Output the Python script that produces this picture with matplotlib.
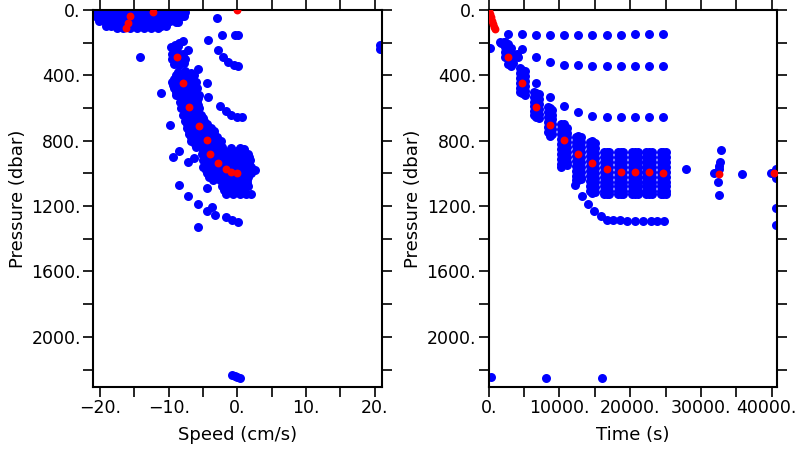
import matplotlib
matplotlib.use("Agg")
import matplotlib.pyplot as plt
from matplotlib.ticker import FixedLocator, FuncFormatter
from matplotlib.transforms import ScaledTranslation

# ---- left panel: speed (cm/s) vs pressure (dbar) ----
# surface cluster
surface = [
    (-20.4, 12), (-19.6, 10), (-18.8, 10), (-18.0, 10), (-17.2, 10), (-16.4, 10),
    (-15.6, 10), (-14.8, 10), (-14.0, 10), (-13.2, 10), (-12.4, 10), (-11.6, 10),
    (-10.8, 10), (-10.0, 10), (-9.2, 10), (-8.4, 10), (-7.7, 12),
    (-20.4, 40), (-19.6, 40), (-18.8, 40), (-18.0, 40), (-17.2, 40), (-16.4, 40),
    (-15.6, 40), (-14.8, 40), (-14.0, 40), (-13.2, 40), (-12.4, 40), (-11.6, 40),
    (-10.8, 40), (-10.0, 40), (-9.2, 40), (-8.4, 40), (-7.8, 38),
    (-20.2, 68), (-19.4, 70), (-18.6, 70), (-17.8, 70), (-17.0, 70), (-16.2, 70),
    (-15.4, 70), (-14.6, 70), (-13.8, 70), (-13.0, 70), (-12.2, 70), (-11.4, 70),
    (-10.6, 70), (-9.8, 70), (-9.0, 72), (-8.6, 74),
    (-19.2, 95), (-18.4, 98), (-17.6, 100), (-16.8, 100), (-16.0, 100), (-15.2, 100),
    (-14.4, 100), (-13.6, 100), (-12.8, 100), (-12.0, 100), (-11.2, 98), (-10.4, 96),
    (-17.6, 110), (-16.6, 112), (-15.6, 112), (-14.6, 112), (-13.6, 112), (-12.6, 112),
    (-11.6, 110),
]

# blobs between 180 and 380 dbar
upper_blobs = [
    (-9.7, 228), (-9.1, 214), (-8.5, 200), (-8.0, 192), (-9.4, 234), (-8.7, 220),
    (-7.2, 243),
    (-9.5, 270), (-8.7, 262), (-7.9, 268), (-9.6, 300), (-7.7, 300), (-8.7, 300),
    (-9.3, 330), (-8.5, 338), (-7.8, 325),
]

# main descending band
band = [
    (-8.6, 380), (-7.6, 375), (-6.8, 385),
    (-9.0, 400), (-8.0, 400), (-7.0, 400), (-6.3, 400),
    (-9.3, 420), (-8.3, 420), (-7.3, 420), (-6.5, 420),
    (-9.6, 440), (-8.8, 440), (-7.8, 440), (-6.9, 440), (-6.0, 440),
    (-9.4, 460), (-8.4, 460), (-7.4, 460), (-6.5, 460),
    (-9.2, 480), (-8.5, 480), (-7.5, 480), (-6.6, 480), (-5.9, 480),
    (-9.0, 500), (-8.0, 500), (-7.0, 500), (-6.2, 500),
    (-8.9, 520), (-8.0, 520), (-7.0, 520), (-6.1, 520), (-5.6, 520),
    (-8.2, 540), (-7.3, 540), (-6.4, 540), (-5.8, 540),
    (-8.4, 560), (-7.6, 560), (-6.7, 560), (-5.9, 560),
    (-7.9, 580), (-7.0, 580), (-6.1, 580), (-5.7, 580),
    (-8.2, 600), (-7.3, 600), (-6.4, 600), (-5.6, 600),
    (-7.6, 620), (-6.7, 620), (-5.8, 620),
    (-7.9, 640), (-7.0, 640), (-6.1, 640), (-5.3, 640),
    (-7.4, 660), (-6.5, 660), (-5.6, 660), (-5.0, 660),
    (-7.6, 680), (-6.8, 680), (-5.8, 680), (-4.9, 680),
    (-7.3, 700), (-6.3, 700), (-5.3, 700), (-4.4, 700),
    (-7.4, 720), (-6.5, 720), (-5.5, 720), (-4.5, 720), (-3.8, 720),
    (-7.0, 740), (-6.0, 740), (-5.0, 740), (-4.0, 740), (-3.4, 740),
    (-7.0, 760), (-6.2, 760), (-5.3, 760), (-4.3, 760), (-3.4, 760),
    (-6.8, 780), (-5.8, 780), (-4.8, 780), (-3.8, 780), (-3.0, 780),
    (-6.8, 800), (-6.0, 800), (-5.0, 800), (-4.0, 800), (-3.0, 800), (-2.4, 800),
    (-6.2, 820), (-5.2, 820), (-4.2, 820), (-3.2, 820), (-2.6, 820),
    (-6.0, 840), (-5.0, 840), (-4.0, 840), (-3.0, 840), (-2.2, 840), (-1.0, 845), (0.3, 845), (1.0, 850),
    (-5.0, 860), (-4.0, 860), (-3.0, 860), (-2.0, 860), (-1.0, 860), (0.0, 860), (0.8, 860),
    (-5.2, 880), (-4.2, 880), (-3.2, 880), (-2.2, 880), (-1.2, 880), (-0.2, 880), (0.8, 880), (1.6, 880),
    (-4.6, 900), (-3.6, 900), (-2.6, 900), (-1.6, 900), (-0.6, 900), (0.4, 900), (1.2, 900), (1.7, 900),
    (-5.0, 920), (-4.2, 920), (-3.2, 920), (-2.2, 920), (-1.2, 920), (-0.2, 920), (0.8, 920), (1.8, 920),
    (-4.6, 940), (-3.6, 940), (-2.6, 940), (-1.6, 940), (-0.6, 940), (0.4, 940), (1.2, 940), (1.7, 940),
    (-5.0, 960), (-4.2, 960), (-3.2, 960), (-2.2, 960), (-1.2, 960), (-0.2, 960), (0.8, 960), (2.0, 960),
    (-4.6, 980), (-3.6, 980), (-2.6, 980), (-1.6, 980), (-0.6, 980), (0.4, 980), (1.2, 980), (1.7, 980),
    (-4.4, 1000), (-3.2, 1000), (-2.2, 1000), (-1.2, 1000), (-0.2, 1000), (0.8, 1000), (1.9, 1000),
    (-4.2, 1020), (-3.2, 1020), (-2.2, 1020), (-1.2, 1020), (-0.2, 1020), (0.8, 1020), (1.6, 1020),
    (-3.6, 1040), (-2.6, 1040), (-1.6, 1040), (-0.6, 1040), (0.4, 1040), (1.4, 1040),
    (-2.0, 1060), (-1.0, 1060), (0.0, 1060), (1.0, 1060), (1.4, 1060),
    (-2.3, 1080), (-1.4, 1080), (-0.4, 1080), (0.6, 1080), (1.5, 1080),
    (-1.9, 1100), (-0.9, 1100), (0.1, 1100), (1.0, 1100),
    (-1.2, 1110), (-0.2, 1110), (0.8, 1110),
    (-1.6, 1125), (-0.6, 1125), (0.4, 1125), (1.2, 1125),
]

# scattered points and near-zero trails
left_scatter = [
    (-14.2, 286), (-5.7, 361), (-11.2, 510), (-9.9, 705), (-4.4, 449), (-4.3, 533),
    (-8.5, 860), (-9.4, 900), (-7.2, 929), (-6.4, 908), (-8.5, 1071), (-7.2, 1136),
    (-5.7, 1188), (-4.5, 1090), (-3.75, 1208), (-4.4, 1229), (-3.3, 1255),
    (-1.7, 1266), (-0.85, 1286), (0.1, 1296), (-5.7, 1325), (2.0, 1127), (2.5, 980),
    (-3.0, 46), (-4.25, 184), (-2.2, 153), (-0.4, 150), (0.1, 150),
    (-2.8, 243), (-2.1, 289), (-1.35, 316), (-0.55, 334), (0.1, 341),
    (-2.5, 588), (-1.7, 621), (-1.0, 643), (-0.1, 653), (0.6, 655),
    (20.8, 215), (20.8, 236),
    (-0.8, 2232), (-0.4, 2238), (0.0, 2245), (0.3, 2250),
]

left_red = [
    (0.0, 3), (-12.3, 14), (-15.6, 38), (-16.0, 80), (-16.3, 108), (-8.85, 286),
    (-8.0, 449), (-7.05, 592), (-5.6, 708), (-4.5, 798), (-4.0, 880), (-2.9, 939),
    (-1.6, 976), (-0.95, 994), (0.0, 1000),
]

# ---- right panel: time (s) vs pressure (dbar) ----
row_150 = [
    (2750, 149), (4750, 149), (6690, 150), (8660, 151), (10650, 151), (12660, 151),
    (14640, 151), (16680, 150), (18660, 150), (20690, 149), (22660, 149), (24680, 149),
]
row_340 = [
    (4750, 241), (6690, 290), (8660, 320), (10650, 337), (12660, 338), (14640, 341),
    (16680, 341), (18660, 341), (20690, 341), (22660, 341), (24680, 341),
]
row_650 = [
    (6690, 449), (8660, 535), (10650, 588), (12660, 625), (14640, 647), (16680, 653),
    (18660, 653), (20690, 653), (22660, 653), (24680, 653),
]
row_1290 = [
    (12200, 1071), (13140, 1139), (14000, 1185), (14880, 1229), (15830, 1262),
    (16680, 1282), (17620, 1286), (18560, 1288), (19590, 1290), (20680, 1290),
    (21770, 1290), (22900, 1290), (23830, 1290), (24780, 1290),
]
early = [
    (180, 233), (1600, 194), (1700, 205), (2100, 195), (2500, 232), (2800, 255),
    (3200, 280), (3000, 306), (3450, 327), (4190, 286), (4050, 269),
]
# dense profile columns: (time, pressures)
late_col = [870, 900, 930, 960, 990, 1020, 1050, 1080, 1105, 1125]
columns = [
    (2250, [195, 225, 255, 285]),
    (2700, [210, 240, 270, 300, 330]),
    (3100, [230, 260, 290, 320, 345]),
    (4400, [355, 385, 415, 445, 475, 500]),
    (4750, [365, 395, 425, 455, 485, 510]),
    (5100, [375, 405, 435, 465, 495, 520]),
    (6340, [500, 530, 560, 590, 620, 645]),
    (6690, [505, 535, 565, 595, 625, 655]),
    (7040, [515, 545, 575, 605, 635, 660]),
    (8310, [595, 625, 655, 685, 715, 745]),
    (8660, [600, 630, 660, 690, 720, 750, 770]),
    (9010, [610, 640, 670, 700, 730, 760]),
    (10280, [700, 730, 760, 790, 820, 850, 880, 910, 940, 960]),
    (10650, [695, 725, 755, 785, 815, 845, 875, 905, 935]),
    (11020, [720, 750, 780, 810, 840, 870, 900, 930, 950]),
    (12280, [775, 805, 835, 865, 895, 925, 955, 985, 1015, 1040]),
    (12660, [770, 800, 830, 860, 890, 920, 950, 980, 1010, 1040]),
    (13040, [780, 810, 840, 870, 900, 930, 960, 990, 1020, 1035]),
    (14260, [805, 835, 865, 895, 925, 955, 985, 1015, 1045, 1075, 1105]),
    (14640, [800, 830, 860, 890, 920, 950, 980, 1010, 1040, 1070, 1100, 1120]),
    (15020, [815, 845, 875, 905, 935, 965, 995, 1025, 1055, 1085, 1115]),
    (16300, late_col), (16680, late_col), (17060, late_col),
    (18280, late_col), (18660, late_col), (19040, late_col),
    (20310, late_col), (20690, late_col), (21070, late_col),
    (22280, late_col), (22660, late_col), (23040, late_col),
    (24300, late_col), (24680, late_col), (25060, late_col),
]
late = [
    (27840, 976), (32790, 857), (32690, 929), (32600, 955), (32550, 975),
    (31850, 1000), (32450, 1051), (32600, 1133), (35760, 1006), (39860, 1000),
    (40610, 976), (40610, 1031), (40610, 1214), (40610, 1317),
    (280, 2245), (8100, 2249), (16060, 2251),
]
right_red = [
    (80, 8), (200, 25), (330, 45), (470, 65), (620, 85), (780, 105), (950, 118),
    (2700, 288), (4750, 449), (6690, 592), (8660, 704), (10650, 796), (12660, 880),
    (14640, 939), (16680, 975), (18660, 990), (20690, 994), (22660, 994),
    (24680, 1000), (32550, 1004), (40370, 1000),
]

BLUE = "#0000ff"
RED = "#ff0000"
FS = 13


def style_axes(ax):
    for sp in ax.spines.values():
        sp.set_linewidth(1.5)
    ax.tick_params(which="both", direction="out", length=7, width=1.2,
                   top=True, right=True, labeltop=False, labelright=False,
                   labelsize=12.5, pad=2)
    ax.set_ylim(2305, 0)
    ax.yaxis.set_major_locator(FixedLocator([0, 400, 800, 1200, 1600, 2000]))
    ax.yaxis.set_minor_locator(FixedLocator([200, 600, 1000, 1400, 1800, 2200]))
    ax.yaxis.set_major_formatter(FuncFormatter(lambda v, p: f"{int(v)}."))
    ax.set_ylabel("Pressure (dbar)", fontsize=FS, labelpad=3)


def plot_speed(ax):
    pts = surface + upper_blobs + band + left_scatter
    ax.scatter([p[0] for p in pts], [p[1] for p in pts], s=42, c=BLUE, linewidths=0, zorder=2)
    ax.scatter([p[0] for p in left_red], [p[1] for p in left_red], s=32, c=RED, linewidths=0, zorder=3)
    style_axes(ax)
    ax.set_xlim(-21, 21)
    ax.xaxis.set_major_locator(FixedLocator([-20, -10, 0, 10, 20]))
    ax.xaxis.set_minor_locator(FixedLocator([-15, -5, 5, 15]))
    ax.xaxis.set_major_formatter(FuncFormatter(lambda v, p: f"{int(v)}.".replace("-", "\u2212")))
    ax.set_xlabel("Speed (cm/s)", fontsize=FS, labelpad=6)


def plot_time(ax):
    pts = row_150 + row_340 + row_650 + row_1290 + early + late
    for t, plist in columns:
        pts = pts + [(t, pr) for pr in plist]
    ax.scatter([p[0] for p in pts], [p[1] for p in pts], s=42, c=BLUE, linewidths=0, zorder=2)
    ax.scatter([p[0] for p in right_red], [p[1] for p in right_red], s=32, c=RED, linewidths=0, zorder=3)
    style_axes(ax)
    ax.set_xlim(0, 40800)
    ax.xaxis.set_major_locator(FixedLocator([0, 10000, 20000, 30000, 40000]))
    ax.xaxis.set_minor_locator(FixedLocator([5000, 15000, 25000, 35000]))
    ax.xaxis.set_major_formatter(FuncFormatter(lambda v, p: f"{int(v)}."))
    ax.set_xlabel("Time (s)", fontsize=FS, labelpad=6)


def main():
    fig = plt.figure(figsize=(8, 4.5), dpi=100)
    ax1 = fig.add_axes([0.1166, 0.1407, 0.3605, 0.8371])
    ax2 = fig.add_axes([0.6109, 0.1407, 0.3608, 0.8371])
    plot_speed(ax1)
    plot_time(ax2)
    # nudge the last time label so it stays inside the figure
    fig.canvas.draw()
    last = ax2.xaxis.get_major_ticks()[-1].label1
    last.set_transform(last.get_transform() + ScaledTranslation(-4 / 72, 0, fig.dpi_scale_trans))
    fig.savefig("out.png", dpi=100)


if __name__ == "__main__":
    main()
